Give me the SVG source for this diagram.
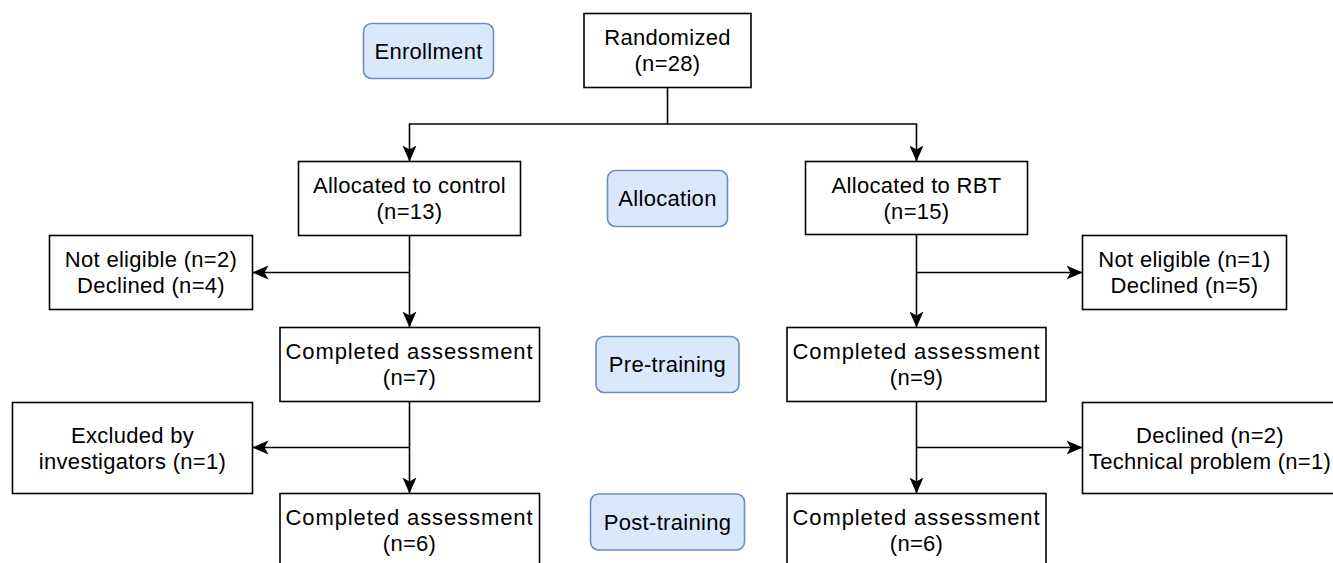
<svg xmlns="http://www.w3.org/2000/svg" width="1333" height="563" viewBox="0 0 1333 563">
<style>
  .box { fill: #ffffff; stroke: #000000; stroke-width: 1.6; }
  .phase { fill: #dae8fc; stroke: #6c8ebf; stroke-width: 1.6; }
  text { font-family: "Liberation Sans", Arial, Helvetica, sans-serif; font-size: 22px; fill: #000000; text-anchor: middle; letter-spacing: 0.3px; }
  .wide { letter-spacing: 0.9px; }
  .conn { fill: none; stroke: #000000; stroke-width: 1.6; }
</style>
<defs>
  <marker id="arrow" markerUnits="userSpaceOnUse" markerWidth="17" markerHeight="16" refX="16" refY="8" orient="auto">
    <path d="M0,1 L16,8 L0,15 L4,8 Z" fill="#000000"/>
  </marker>
</defs>
<rect width="1333" height="563" fill="#ffffff"/>

<g id="connectors">
  <path class="conn" d="M667.5,87.5 V124 H409.5 V161.5" marker-end="url(#arrow)"/>
  <path class="conn" d="M667.5,124 H916.5 V161.5" marker-end="url(#arrow)"/>
  <path class="conn" d="M409.5,235.5 V327.5" marker-end="url(#arrow)"/>
  <path class="conn" d="M409.5,272.5 H252.5" marker-end="url(#arrow)"/>
  <path class="conn" d="M916.5,235 V327.5" marker-end="url(#arrow)"/>
  <path class="conn" d="M916.5,272.5 H1082.5" marker-end="url(#arrow)"/>
  <path class="conn" d="M409.5,401.5 V493.5" marker-end="url(#arrow)"/>
  <path class="conn" d="M409.5,447.5 H252.5" marker-end="url(#arrow)"/>
  <path class="conn" d="M916.5,401.5 V493.5" marker-end="url(#arrow)"/>
  <path class="conn" d="M916.5,447.5 H1082.5" marker-end="url(#arrow)"/>
</g>

<g id="enrollment">
  <rect class="phase" x="363.5" y="23.5" width="130" height="55" rx="8"/>
  <text x="428.5" y="58.5">Enrollment</text>
</g>
<g id="randomized">
  <rect class="box" x="584" y="13.5" width="167" height="74"/>
  <text x="667.5" y="45">Randomized</text>
  <text x="667.5" y="71">(n=28)</text>
</g>
<g id="allocation">
  <rect class="phase" x="607.5" y="170.5" width="120" height="56" rx="8"/>
  <text x="667.5" y="206">Allocation</text>
</g>
<g id="alloc-control">
  <rect class="box" x="298.5" y="161.5" width="222" height="74"/>
  <text x="409.5" y="193">Allocated to control</text>
  <text x="409.5" y="219">(n=13)</text>
</g>
<g id="alloc-rbt">
  <rect class="box" x="805.5" y="161.5" width="222" height="73"/>
  <text x="916.5" y="193">Allocated to RBT</text>
  <text x="916.5" y="219">(n=15)</text>
</g>
<g id="excl-control-1">
  <rect class="box" x="49.5" y="235.5" width="203" height="74"/>
  <text x="151" y="267">Not eligible (n=2)</text>
  <text x="151" y="293">Declined (n=4)</text>
</g>
<g id="excl-rbt-1">
  <rect class="box" x="1082.5" y="235.5" width="204" height="74"/>
  <text x="1184.5" y="267">Not eligible (n=1)</text>
  <text x="1184.5" y="293">Declined (n=5)</text>
</g>
<g id="pre-control">
  <rect class="box" x="280" y="327.5" width="259.5" height="74"/>
  <text class="wide" x="409.5" y="359">Completed assessment</text>
  <text x="409.5" y="385">(n=7)</text>
</g>
<g id="pre-training">
  <rect class="phase" x="596" y="336.5" width="143" height="56" rx="8"/>
  <text x="667.5" y="372">Pre-training</text>
</g>
<g id="pre-rbt">
  <rect class="box" x="787" y="327.5" width="259" height="74"/>
  <text class="wide" x="916.5" y="359">Completed assessment</text>
  <text x="916.5" y="385">(n=9)</text>
</g>
<g id="excl-control-2">
  <rect class="box" x="12.5" y="402.5" width="240" height="91"/>
  <text x="132.5" y="442.5">Excluded by</text>
  <text x="132.5" y="468.5">investigators (n=1)</text>
</g>
<g id="excl-rbt-2">
  <rect class="box" x="1082.5" y="402.5" width="256" height="91"/>
  <text x="1210" y="442.5">Declined (n=2)</text>
  <text x="1210" y="468.5">Technical problem (n=1)</text>
</g>
<g id="post-control">
  <rect class="box" x="280" y="493.5" width="259.5" height="74"/>
  <text class="wide" x="409.5" y="525">Completed assessment</text>
  <text x="409.5" y="551">(n=6)</text>
</g>
<g id="post-training">
  <rect class="phase" x="590.5" y="494" width="154" height="56" rx="8"/>
  <text x="667.5" y="529.5">Post-training</text>
</g>
<g id="post-rbt">
  <rect class="box" x="787" y="493.5" width="259" height="74"/>
  <text class="wide" x="916.5" y="525">Completed assessment</text>
  <text x="916.5" y="551">(n=6)</text>
</g>
</svg>
